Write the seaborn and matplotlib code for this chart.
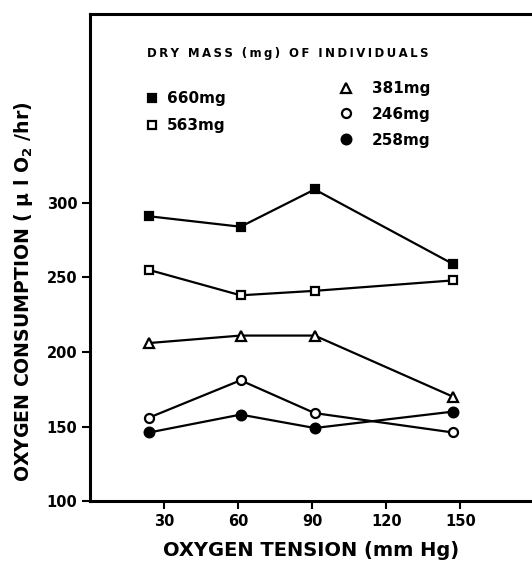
import matplotlib
matplotlib.use("Agg")
import matplotlib.pyplot as plt
from matplotlib.lines import Line2D
import seaborn as sns
import pandas as pd

# ---- data ----
tension = [24, 61, 91, 147]
mass_660 = [291, 284, 309, 259]
mass_563 = [255, 238, 241, 248]
mass_381 = [206, 211, 211, 170]
mass_246 = [156, 181, 159, 146]
mass_258 = [146, 158, 149, 160]
series_labels = ["660mg", "563mg", "381mg", "246mg", "258mg"]
x_ticks = [30, 60, 90, 120, 150]
y_ticks = [100, 150, 200, 250, 300]
legend_title = "DRY MASS (mg) OF INDIVIDUALS"

sns.set_style("ticks")
plt.rcParams["font.family"] = ["DejaVu Sans"]
plt.rcParams["font.weight"] = "bold"
for k in ["text.color", "axes.labelcolor", "xtick.color", "ytick.color",
          "axes.edgecolor"]:
    plt.rcParams[k] = "black"
plt.rcParams["mathtext.fontset"] = "custom"
plt.rcParams["mathtext.rm"] = "DejaVu Sans:bold"
plt.rcParams["mathtext.bf"] = "DejaVu Sans:bold"
plt.rcParams["mathtext.default"] = "bf"

fig = plt.figure(figsize=(5.32, 5.63), dpi=100)
ax = fig.add_axes([0.169, 0.110, 0.831, 0.866])

styles = [
    ("s", "black", 6.0),
    ("s", "white", 6.0),
    ("^", "white", 6.5),
    ("o", "white", 6.5),
    ("o", "black", 7.0),
]
rows = []
for vals, lab in zip([mass_660, mass_563, mass_381, mass_246, mass_258], series_labels):
    for xv, yv in zip(tension, vals):
        rows.append({"tension": xv, "o2": yv, "mass": lab})
df = pd.DataFrame(rows)

handles = []
for (mk, fc, ms), lab in zip(styles, series_labels):
    sub = df[df["mass"] == lab]
    sns.lineplot(data=sub, x="tension", y="o2", ax=ax, color="black",
                 linewidth=1.6, marker=mk, markersize=ms,
                 markerfacecolor=fc, markeredgecolor="black",
                 markeredgewidth=1.6, legend=False)
    handles.append(Line2D([], [], linestyle="none", marker=mk, markersize=ms,
                          markerfacecolor=fc, markeredgecolor="black",
                          markeredgewidth=1.6, label=lab))

ax.set_xlim(0, 179)
ax.set_ylim(100, 427)
ax.set_xticks(x_ticks)
ax.set_yticks(y_ticks)
ax.tick_params(axis="both", direction="out", length=6, width=1.5,
               labelsize=10.5, pad=3)
for lbl in ax.get_xticklabels() + ax.get_yticklabels():
    lbl.set_fontweight("bold")

for s in ["left", "bottom", "top"]:
    ax.spines[s].set_linewidth(2.2)
ax.spines["right"].set_visible(False)

ax.set_xlabel("OXYGEN TENSION (mm Hg)", fontsize=14, fontweight="bold",
              labelpad=9)
ax.set_ylabel("OXYGEN CONSUMPTION ( μ l O$_2$ /hr)", fontsize=13.6,
              fontweight="bold")
ax.yaxis.set_label_coords(-0.125, 0.429)

spaced_title = "\u2009".join(legend_title)
ax.text(0.129, 0.919, spaced_title, transform=ax.transAxes,
        fontsize=8.5, fontweight="bold", ha="left", va="center")

leg1 = ax.legend(handles=handles[:2], loc="upper left",
                 bbox_to_anchor=(0.105, 0.857), frameon=False,
                 prop={"weight": "bold", "size": 11},
                 handletextpad=0.5, labelspacing=0.8, borderpad=0,
                 handlelength=1.0)
ax.add_artist(leg1)
ax.legend(handles=handles[2:], loc="upper left",
          bbox_to_anchor=(0.544, 0.877), frameon=False,
          prop={"weight": "bold", "size": 11},
          handletextpad=1.2, labelspacing=0.7, borderpad=0,
          handlelength=1.0)

fig.savefig("out.png", dpi=100)
